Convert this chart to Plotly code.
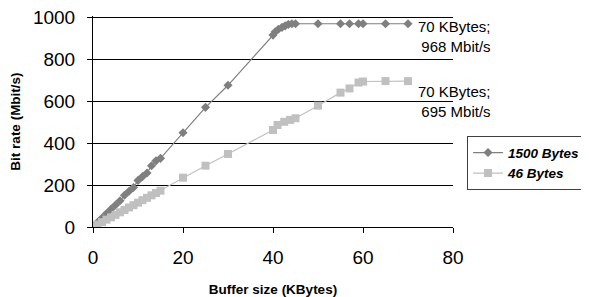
import plotly.graph_objects as go

# 1500 Bytes series
x_1500 = [0, 1, 2, 3, 4, 5, 6, 7, 8, 9, 10, 11, 12, 13, 14, 15, 20, 25, 30,
          40, 40.5, 41.2, 42, 42.7, 43.4, 44.2, 45, 50, 55, 57, 59, 60, 65, 70]
y_1500 = [0, 22, 43, 64, 85, 105, 125, 151, 170, 188, 222, 240, 257, 292, 315, 327, 449, 570, 675,
          914, 930, 942, 951, 958, 965, 968, 968, 968, 968, 968, 968, 968, 968, 968]

# 46 Bytes series
x_46 = [0, 1, 2, 3, 4, 5, 6, 7, 8, 9, 10, 11, 12, 13, 14, 15, 20, 25, 30,
        40, 41, 42.5, 43.8, 45, 50, 55, 57, 59, 60, 65, 70]
y_46 = [0, 12, 23, 35, 46, 58, 70, 81, 93, 104, 116, 128, 139, 151, 162, 173, 235, 292, 348,
        462, 486, 501, 510, 518, 578, 640, 660, 688, 693, 695, 695]

x_ticks = [0, 20, 40, 60, 80]
y_ticks = [0, 200, 400, 600, 800, 1000]

FONT = "Liberation Sans, Arial, sans-serif"

fig = go.Figure()
fig.add_trace(go.Scatter(
    x=x_1500, y=y_1500, mode="lines+markers", name="<b><i>1500 Bytes</i></b>",
    line=dict(color="#7f7f7f", width=1.2),
    marker=dict(symbol="diamond", size=7, color="#7f7f7f"),
))
fig.add_trace(go.Scatter(
    x=x_46, y=y_46, mode="lines+markers", name="<b><i>46 Bytes</i></b>",
    line=dict(color="#c0c0c0", width=1.2),
    marker=dict(symbol="square", size=8, color="#c0c0c0"),
))

fig.add_annotation(x=1.11, y=0.905, xref="paper", yref="paper",
                   text="70 KBytes;<br>968 Mbit/s", showarrow=False,
                   xanchor="right", yanchor="middle", align="right",
                   font=dict(size=15, color="#000", family=FONT))
fig.add_annotation(x=1.11, y=0.593, xref="paper", yref="paper",
                   text="70 KBytes;<br>695 Mbit/s", showarrow=False,
                   xanchor="right", yanchor="middle", align="right",
                   font=dict(size=15, color="#000", family=FONT))

# page body has an 8px margin, so the figure is 8px smaller and offset
fig.update_layout(
    width=581, height=289,
    margin=dict(l=85, r=136, t=8, b=70, autoexpand=False),
    paper_bgcolor="white", plot_bgcolor="white",
    font=dict(family=FONT, color="#000"),
    showlegend=True,
    legend=dict(x=1.039, y=0.43, xanchor="left", yanchor="top",
                bordercolor="#404040", borderwidth=1, bgcolor="white",
                font=dict(size=13.5, family=FONT, color="#000"),
                tracegroupgap=0, itemwidth=30),
    xaxis=dict(range=[0, 80], tickvals=x_ticks, showgrid=False, automargin=False,
               showline=True, linecolor="#000", linewidth=1,
               ticks="outside", ticklen=5, tickcolor="#000",
               tickfont=dict(size=19, family=FONT), ticklabelstandoff=8,
               ticklabeloverflow="allow", zeroline=False,
               title=dict(text="<b>Buffer size (KBytes)</b>", font=dict(size=13.5, family=FONT), standoff=18)),
    yaxis=dict(range=[0, 1005], tickvals=y_ticks, showgrid=True, automargin=False,
               gridcolor="#000", gridwidth=1,
               showline=True, linecolor="#000", linewidth=1,
               ticks="outside", ticklen=5, tickcolor="#000",
               tickfont=dict(size=19, family=FONT), ticklabelstandoff=8,
               ticklabeloverflow="allow", zeroline=False,
               title=dict(text="<b>Bit rate (Mbit/s)</b>", font=dict(size=13.5, family=FONT), standoff=14)),
)

fig.write_html("out.html")
